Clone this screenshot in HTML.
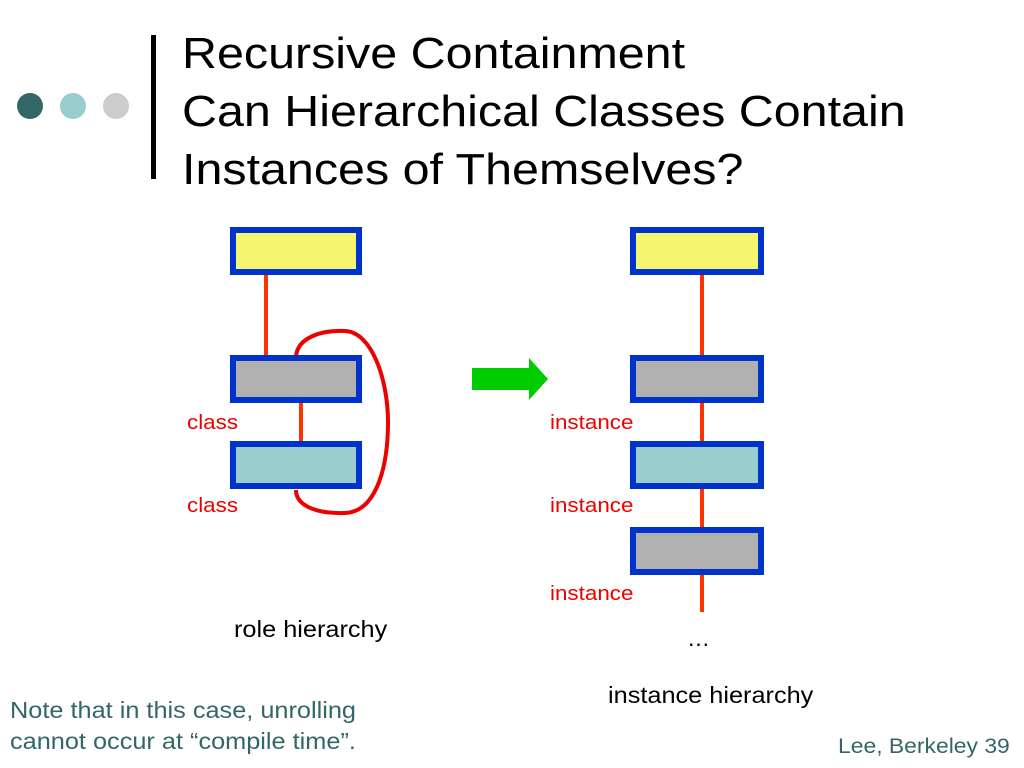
<!DOCTYPE html>
<html><head><style>
body{margin:0;width:1024px;height:768px;background:#fff;overflow:hidden;position:relative;font-family:"Liberation Sans",sans-serif}
.t{position:absolute;white-space:nowrap;transform-origin:0 0}
</style></head><body>
<svg width="1024" height="768" style="position:absolute;left:0;top:0">
<circle cx="30" cy="106" r="13" fill="#336666"/>
<circle cx="73" cy="106" r="13" fill="#99cccc"/>
<circle cx="116" cy="106" r="13" fill="#cccccc"/>
<rect x="151" y="35" width="5" height="144" fill="#000"/>
<g stroke="#ff3300" stroke-width="4">
<line x1="266" y1="275" x2="266" y2="355"/>
<line x1="301" y1="403" x2="301" y2="441"/>
<line x1="702" y1="275" x2="702" y2="612"/>
</g>
<path d="M296,356 C298,338 320,330 345,331 C372,332 388,380 388,422 C388,470 375,512 345,513 C315,514 296,505 296,490" fill="none" stroke="#ee0000" stroke-width="4"/>
<g stroke="#0033cc" stroke-width="6">
<rect x="233" y="230" width="126" height="42" fill="#f5f56e"/>
<rect x="233" y="358" width="126" height="42" fill="#b0b0b0"/>
<rect x="233" y="444" width="126" height="42" fill="#99cccc"/>
<rect x="633" y="230" width="128" height="42" fill="#f5f56e"/>
<rect x="633" y="358" width="128" height="42" fill="#b0b0b0"/>
<rect x="633" y="444" width="128" height="42" fill="#99cccc"/>
<rect x="633" y="530" width="128" height="42" fill="#b0b0b0"/>
</g>
<polygon points="472,368 529,368 529,358 548,379 529,400 529,390 472,390" fill="#00cc00"/>
</svg>
<div class="t" style="left:182px;top:25px;font-size:44px;line-height:58px;transform:scaleX(1.1)">Recursive Containment<br>Can Hierarchical Classes Contain<br>Instances of Themselves?</div>
<div class="t" style="left:187px;top:412px;font-size:20px;color:#ee0000;transform:scaleX(1.12)">class</div>
<div class="t" style="left:187px;top:495px;font-size:20px;color:#ee0000;transform:scaleX(1.12)">class</div>
<div class="t" style="left:550px;top:412px;font-size:20px;color:#ee0000;transform:scaleX(1.12)">instance</div>
<div class="t" style="left:550px;top:495px;font-size:20px;color:#ee0000;transform:scaleX(1.12)">instance</div>
<div class="t" style="left:550px;top:583px;font-size:20px;color:#ee0000;transform:scaleX(1.12)">instance</div>
<div class="t" style="left:234px;top:616px;font-size:23px;transform:scaleX(1.1)">role hierarchy</div>
<div class="t" style="left:687px;top:625px;font-size:23px">…</div>
<div class="t" style="left:608px;top:682px;font-size:23px;transform:scaleX(1.1)">instance hierarchy</div>
<div class="t" style="left:10px;top:695px;font-size:23px;line-height:31px;color:#336666;transform:scaleX(1.1)">Note that in this case, unrolling<br>cannot occur at “compile time”.</div>
<div class="t" style="left:838px;top:735px;font-size:21px;color:#336666;transform:scaleX(1.09)">Lee, Berkeley 39</div>
</body></html>
